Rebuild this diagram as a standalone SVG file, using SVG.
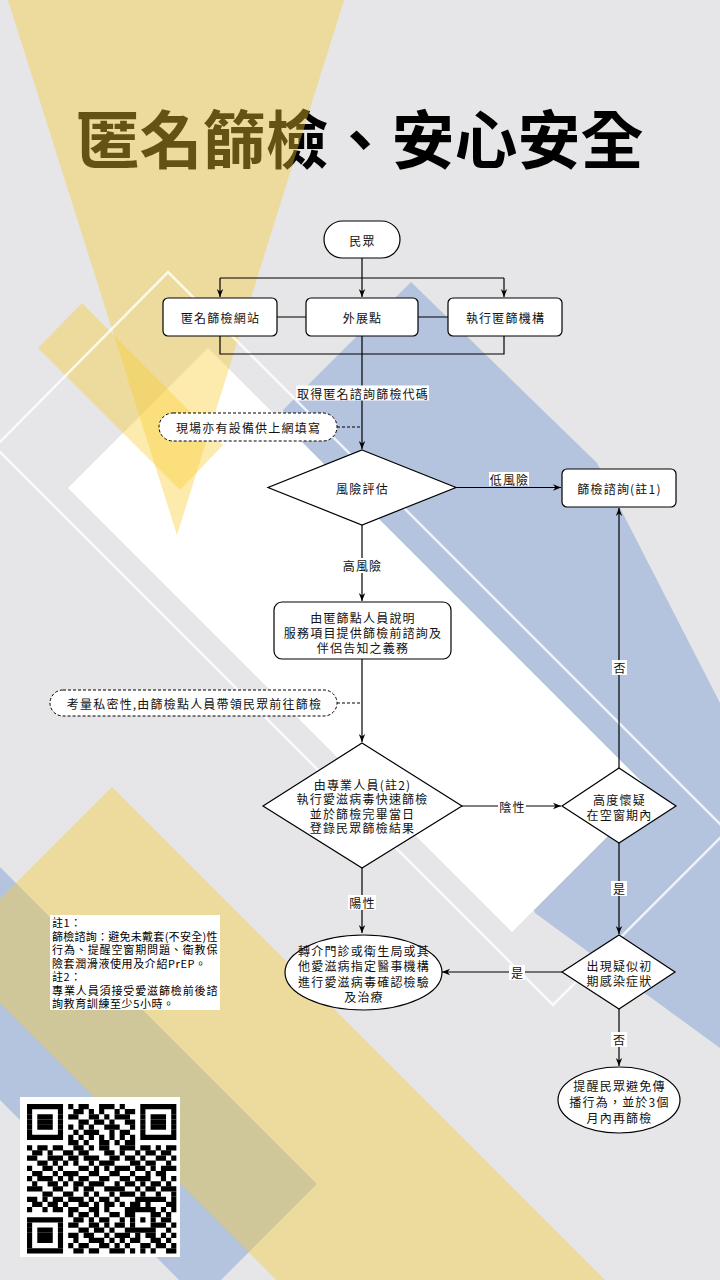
<svg xmlns="http://www.w3.org/2000/svg" width="720" height="1280" viewBox="0 0 720 1280">
<defs>
<style>
.t{font-family:"Noto Sans CJK TC","Noto Sans CJK SC","Noto Sans",sans-serif;font-size:12px;fill:#111;text-anchor:middle;dominant-baseline:central;letter-spacing:1.2px}
.nt{font-family:"Noto Sans CJK TC","Noto Sans CJK SC","Noto Sans",sans-serif;font-size:11px;fill:#000;dominant-baseline:central;letter-spacing:0.6px}
.n{fill:#fff;stroke:#000;stroke-width:1.2}
.c{fill:none;stroke:#000;stroke-width:1.2}
.d{fill:none;stroke:#000;stroke-width:1;stroke-dasharray:3 2}
.cb{fill:#fff;stroke:#000;stroke-width:1;stroke-dasharray:3 2}
.lb{fill:#fff}
.y{fill:#f8cd32;opacity:.4}
.wl{fill:none;stroke:#fff;stroke-width:2.5;opacity:.8}
</style>
<marker id="ah" viewBox="0 0 10 10" refX="10" refY="5" markerWidth="8" markerHeight="8" orient="auto" markerUnits="userSpaceOnUse">
<path d="M0,1 L10,5 L0,9 L3,5 z" fill="#000"/>
</marker>
</defs>

<rect width="720" height="1280" fill="#e6e5e7"/>
<g id="background">
<polygon fill="#b4c3de" points="411,282 597,463 720,703 720,1048 535,913 283,410"/>
<polygon fill="#b4c3de" points="0,867 317,1184 200,1301 0,1100"/>
<polygon fill="#fff" points="68,488 208,348 652,792 512,932"/>
</g>

<text id="title" x="360" y="163" font-family="'Noto Sans CJK TC','Noto Sans CJK SC',sans-serif" font-size="63" font-weight="700" fill="#000" text-anchor="middle">匿名篩檢、安心安全</text>

<g id="overlays">
<polygon class="y" points="8,0 344,0 177,535"/>
<polygon class="y" points="38,348 82,303 223,445 180,490"/>
<polygon class="y" points="112,787 650,1325 320,1324 -52,951"/>
<polygon class="wl" points="168,272 727,831 553,1005 -5,447"/>
</g>

<g id="connectors">
<path class="c" d="M362,258 V297" marker-end="url(#ah)"/>
<path class="c" d="M220,278 H504"/>
<path class="c" d="M220,278 V297" marker-end="url(#ah)"/>
<path class="c" d="M504,278 V297" marker-end="url(#ah)"/>
<path class="c" d="M277,317 H306 M418,317 H448"/>
<path class="c" d="M220,336 V354 H504 V336"/>
<path class="c" d="M362,336 V449" marker-end="url(#ah)"/>
<path class="d" d="M337,427 H362"/>
<path class="c" d="M456,487.5 H561" marker-end="url(#ah)"/>
<path class="c" d="M362,525 V601" marker-end="url(#ah)"/>
<path class="c" d="M362,659 V742" marker-end="url(#ah)"/>
<path class="d" d="M337,703 H362"/>
<path class="c" d="M462,806 H561" marker-end="url(#ah)"/>
<path class="c" d="M619,768 V508" marker-end="url(#ah)"/>
<path class="c" d="M619,843 V934" marker-end="url(#ah)"/>
<path class="c" d="M362,868 V933" marker-end="url(#ah)"/>
<path class="c" d="M562,972 H442" marker-end="url(#ah)"/>
<path class="c" d="M619,1009 V1066" marker-end="url(#ah)"/>
<rect class="lb" x="296" y="385.5" width="133" height="15"/><text class="t" x="363" y="393">取得匿名諮詢篩檢代碼</text>
<rect class="lb" x="489" y="472" width="40" height="14"/><text class="t" x="509.5" y="479">低風險</text>
<rect class="lb" x="342" y="558" width="40" height="15"/><text class="t" x="362.5" y="565.5">高風險</text>
<rect class="lb" x="612" y="660" width="15" height="15"/><text class="t" x="620" y="667.5">否</text>
<rect class="lb" x="498" y="799" width="28" height="15"/><text class="t" x="512.5" y="806">陰性</text>
<rect class="lb" x="611" y="881" width="16" height="15"/><text class="t" x="619.5" y="888.5">是</text>
<rect class="lb" x="348" y="895" width="28" height="15"/><text class="t" x="362.5" y="902.5">陽性</text>
<rect class="lb" x="509" y="965" width="16" height="15"/><text class="t" x="517.5" y="972.5">是</text>
<rect class="lb" x="611" y="1032" width="16" height="15"/><text class="t" x="619.5" y="1039.5">否</text>
</g>

<g id="n-minzhong"><rect class="n" x="324" y="221" width="76" height="37" rx="18.5"/><text class="t" x="362.5" y="240">民眾</text></g>
<g id="n-website"><rect class="n" x="163" y="298" width="114" height="38" rx="5"/><text class="t" x="220.5" y="317">匿名篩檢網站</text></g>
<g id="n-outreach"><rect class="n" x="306" y="298" width="112" height="38" rx="5"/><text class="t" x="362.5" y="317">外展點</text></g>
<g id="n-agency"><rect class="n" x="448" y="298" width="114" height="38" rx="5"/><text class="t" x="505.5" y="317">執行匿篩機構</text></g>
<g id="n-note-online"><rect class="cb" x="159" y="413" width="178" height="28" rx="14"/><text class="t" x="248.5" y="427">現場亦有設備供上網填寫</text></g>
<g id="n-risk"><polygon class="n" points="362,450 456,487.5 362,525 268,487.5"/><text class="t" x="362.5" y="488">風險評估</text></g>
<g id="n-consult"><rect class="n" x="562" y="469" width="114" height="38" rx="5"/><text class="t" x="619.5" y="488">篩檢諮詢(註1)</text></g>
<g id="n-explain"><rect class="n" x="274" y="602" width="177" height="57" rx="8"/>
<text class="t" x="363" y="617">由匿篩點人員說明</text>
<text class="t" x="363" y="632.5">服務項目提供篩檢前諮詢及</text>
<text class="t" x="363" y="647.5">伴侶告知之義務</text></g>
<g id="n-note-privacy"><rect class="cb" x="50" y="690" width="287" height="26" rx="13"/><text class="t" x="194.5" y="703">考量私密性,由篩檢點人員帶領民眾前往篩檢</text></g>
<g id="n-test"><polygon class="n" points="362,743 462,806 362,868 263,806"/>
<text class="t" x="362.5" y="784">由專業人員(註2)</text>
<text class="t" x="362.5" y="798.5">執行愛滋病毒快速篩檢</text>
<text class="t" x="362.5" y="813">並於篩檢完畢當日</text>
<text class="t" x="362.5" y="827.5">登錄民眾篩檢結果</text></g>
<g id="n-window"><polygon class="n" points="619,768 676,806 619,843 562,806"/>
<text class="t" x="619.5" y="799.5">高度懷疑</text>
<text class="t" x="619.5" y="814.5">在空窗期內</text></g>
<g id="n-symptom"><polygon class="n" points="619,935 675,972 619,1009 562,972"/>
<text class="t" x="619.5" y="965">出現疑似初</text>
<text class="t" x="619.5" y="980">期感染症狀</text></g>
<g id="n-refer"><ellipse class="n" cx="363.5" cy="972.5" rx="78.5" ry="37.5"/>
<text class="t" x="364" y="950">轉介門診或衛生局或其</text>
<text class="t" x="364" y="965.5">他愛滋病指定醫事機構</text>
<text class="t" x="364" y="981">進行愛滋病毒確認檢驗</text>
<text class="t" x="364" y="996.5">及治療</text></g>
<g id="n-remind"><ellipse class="n" cx="619" cy="1100" rx="61" ry="33"/>
<text class="t" x="619.5" y="1085">提醒民眾避免傳</text>
<text class="t" x="619.5" y="1101">播行為，並於3個</text>
<text class="t" x="619.5" y="1117">月內再篩檢</text></g>

<g id="notes">
<rect x="50" y="915" width="170" height="95" fill="#fff"/>
<text class="nt" x="52" y="922">註1：</text>
<text class="nt" x="52" y="935.5" textLength="166" lengthAdjust="spacing">篩檢諮詢：避免未戴套(不安全)性</text>
<text class="nt" x="52" y="949" textLength="166" lengthAdjust="spacing">行為、提醒空窗期問題、衛教保</text>
<text class="nt" x="52" y="962.5">險套潤滑液使用及介紹PrEP。</text>
<text class="nt" x="52" y="976">註2：</text>
<text class="nt" x="52" y="989.5" textLength="166" lengthAdjust="spacing">專業人員須接受愛滋篩檢前後諮</text>
<text class="nt" x="52" y="1003">詢教育訓練至少5小時。</text>
</g>

<g id="qr">
<rect x="20" y="1097" width="160" height="160" fill="#fff"/>
<g transform="translate(27,1104) scale(5.15)" stroke="#000" stroke-width="1.02" fill="none">
<path d="M0 0.5h29" stroke-dasharray="7 1 1 1 2 2 3 1 1 3 7 50"/>
<path d="M0 1.5h29" stroke-dasharray="1 5 1 2 2 1 1 1 1 2 1 1 2 1 1 5 1 50"/>
<path d="M0 2.5h29" stroke-dasharray="1 1 3 1 1 1 2 2 2 1 1 1 3 2 1 1 3 1 1 50"/>
<path d="M0 3.5h29" stroke-dasharray="1 1 3 1 1 3 2 1 2 1 1 2 2 1 1 1 3 1 1 50"/>
<path d="M0 4.5h29" stroke-dasharray="1 1 3 1 1 1 1 1 1 1 1 2 3 2 1 1 1 1 3 1 1 50"/>
<path d="M0 5.5h29" stroke-dasharray="1 5 1 2 1 1 3 2 1 1 2 2 1 5 1 50"/>
<path d="M0 6.5h29" stroke-dasharray="7 1 1 1 1 1 1 1 1 1 1 1 1 1 1 1 7 50"/>
<path d="M0 7.5h29" stroke-dasharray="0 8 2 1 1 2 2 1 1 1 2 50"/>
<path d="M0 8.5h29" stroke-dasharray="1 1 2 1 2 2 2 1 1 1 2 2 3 1 2 1 1 1 2 50"/>
<path d="M0 9.5h29" stroke-dasharray="0 1 2 1 1 2 2 1 2 3 2 1 1 2 1 1 2 1 2 50"/>
<path d="M0 10.5h29" stroke-dasharray="2 2 3 1 2 1 3 2 2 1 2 1 1 2 2 1 1 50"/>
<path d="M0 11.5h29" stroke-dasharray="0 2 2 1 1 1 1 1 1 2 1 1 3 3 2 1 2 2 1 50"/>
<path d="M0 12.5h29" stroke-dasharray="1 2 2 1 1 3 2 1 1 1 1 1 3 1 2 1 1 1 3 50"/>
<path d="M0 13.5h29" stroke-dasharray="0 1 2 2 1 1 3 2 2 2 2 2 1 2 1 1 2 50"/>
<path d="M0 14.5h29" stroke-dasharray="1 1 3 1 1 1 1 1 2 2 2 2 2 1 3 2 1 1 1 50"/>
<path d="M0 15.5h29" stroke-dasharray="0 1 1 2 2 1 1 1 2 1 3 2 1 1 2 1 1 1 2 1 1 1"/>
<path d="M0 16.5h29" stroke-dasharray="3 2 2 2 1 1 2 2 4 2 1 1 2 1 3 50"/>
<path d="M0 17.5h29" stroke-dasharray="0 3 2 2 2 2 1 1 1 2 1 1 3 1 1 2 1 2 1 50"/>
<path d="M0 18.5h29" stroke-dasharray="2 1 1 1 2 1 3 1 1 1 2 1 1 3 6 1 1 50"/>
<path d="M0 19.5h29" stroke-dasharray="0 1 2 1 2 1 1 2 2 1 1 1 2 1 1 1 2 1 1 3 2 50"/>
<path d="M0 20.5h29" stroke-dasharray="1 2 1 1 2 1 2 2 2 1 1 3 6 1 1 1 1 50"/>
<path d="M0 21.5h29" stroke-dasharray="0 8 1 1 2 1 1 2 2 1 2 3 2 1 1 1"/>
<path d="M0 22.5h29" stroke-dasharray="7 2 2 1 1 1 2 2 1 1 1 1 1 1 1 1 2 1"/>
<path d="M0 23.5h29" stroke-dasharray="1 5 1 1 2 2 2 1 1 1 2 1 1 3 3 1 1 50"/>
<path d="M0 24.5h29" stroke-dasharray="1 1 3 1 1 3 2 1 2 1 1 2 6 2 1 1"/>
<path d="M0 25.5h29" stroke-dasharray="1 1 3 1 1 1 2 1 2 2 1 1 3 1 1 1 2 1 1 1 1 50"/>
<path d="M0 26.5h29" stroke-dasharray="1 1 3 1 1 2 1 2 3 1 1 1 1 1 2 2 2 1 1 1"/>
<path d="M0 27.5h29" stroke-dasharray="1 5 1 1 1 1 2 2 2 1 1 1 1 2 2 1 2 1 1 50"/>
<path d="M0 28.5h29" stroke-dasharray="7 2 2 1 2 2 3 1 1 1 1 1 1 2 2 50"/>
</g>
</g>
</svg>
